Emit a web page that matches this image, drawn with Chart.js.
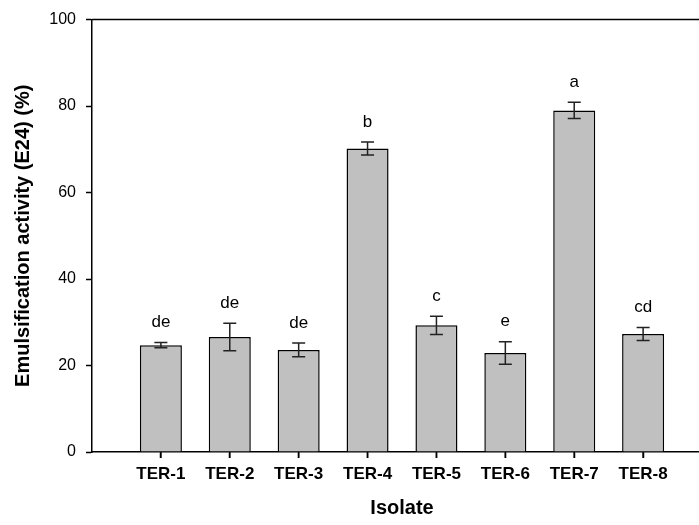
<!DOCTYPE html>
<html>
<head>
<meta charset="utf-8">
<script src="https://cdn.jsdelivr.net/npm/chart.js@4.4.1/dist/chart.umd.min.js"></script>
<style>
  html, body { margin: 0; padding: 0; background: #fff; overflow: hidden; }
  #wrap { width: 720px; height: 525px; position: relative; }
</style>
</head>
<body>
<div id="wrap"><canvas id="chart"></canvas></div>
<script>
// Emulsification activity (E24, %) per isolate: mean, standard deviation, significance group
const isolates = ['TER-1', 'TER-2', 'TER-3', 'TER-4', 'TER-5', 'TER-6', 'TER-7', 'TER-8'];
const meanE24 = [24.7, 26.6, 23.6, 70.2, 29.3, 22.9, 79.0, 27.3];
const sdE24 = [0.6, 3.2, 1.6, 1.5, 2.1, 2.6, 1.9, 1.5];
const groupLetters = ['de', 'de', 'de', 'b', 'c', 'e', 'a', 'cd'];
const yTickValues = [0, 20, 40, 60, 80, 100];

Chart.defaults.font.family = '"Liberation Sans", Arial, Helvetica, sans-serif';
Chart.defaults.color = '#000';

// Error bars, group letters, category tick marks and the top/right frame lines
const annotate = {
  id: 'annotate',
  afterDatasetsDraw(chart) {
    const { ctx, chartArea, scales: { x, y } } = chart;
    ctx.save();
    isolates.forEach((name, i) => {
      const px = x.getPixelForValue(i + 1);
      const yHi = y.getPixelForValue(meanE24[i] + sdE24[i]);
      const yLo = y.getPixelForValue(meanE24[i] - sdE24[i]);
      const cap = 6.5;
      ctx.strokeStyle = '#222';
      ctx.lineWidth = 1.5;
      ctx.beginPath();
      ctx.moveTo(px, yHi); ctx.lineTo(px, yLo);
      ctx.moveTo(px - cap, yHi); ctx.lineTo(px + cap, yHi);
      ctx.moveTo(px - cap, yLo); ctx.lineTo(px + cap, yLo);
      ctx.stroke();
      // tick mark below the axis at the category centre
      ctx.strokeStyle = '#000';
      ctx.beginPath();
      ctx.moveTo(px, chartArea.bottom);
      ctx.lineTo(px, chartArea.bottom + 6);
      ctx.stroke();
      ctx.fillStyle = '#000';
      ctx.font = '17px "Liberation Sans", Arial, sans-serif';
      ctx.textAlign = 'center';
      ctx.textBaseline = 'middle';
      ctx.fillText(groupLetters[i], px, yHi - 20);
    });
    ctx.strokeStyle = '#000';
    ctx.lineWidth = 1.5;
    ctx.beginPath();
    ctx.moveTo(chartArea.left, chartArea.top);
    ctx.lineTo(chartArea.right, chartArea.top);
    ctx.lineTo(chartArea.right, chartArea.bottom);
    ctx.stroke();
    ctx.restore();
  }
};

new Chart(document.getElementById('chart'), {
  type: 'bar',
  data: {
    datasets: [{
      label: 'E24 (%)',
      data: meanE24.map((v, i) => ({ x: i + 1, y: v })),
      backgroundColor: '#c0c0c0',
      borderColor: '#000',
      borderWidth: 1.5,
      barPercentage: 0.61,
      categoryPercentage: 1.0
    }]
  },
  options: {
    responsive: true,
    maintainAspectRatio: false,
    animation: false,
    devicePixelRatio: 1,
    layout: { padding: { left: 0, top: 18, right: 8, bottom: 0 } },
    plugins: {
      legend: { display: false },
      tooltip: { enabled: false }
    },
    scales: {
      x: {
        type: 'linear',
        offset: false,
        min: 0,
        max: isolates.length + 1,
        afterBuildTicks: (s) => { s.ticks = isolates.map((_, i) => ({ value: i + 1 })); },
        afterFit: (s) => { s.height = 73; },
        ticks: {
          callback: (v) => isolates[v - 1] || '',
          autoSkip: false,
          maxRotation: 0,
          padding: 6,
          color: '#000',
          font: { size: 17, weight: 'bold' }
        },
        grid: { offset: false, drawOnChartArea: false, drawTicks: true, tickLength: 6, tickColor: '#000', tickWidth: 1.5 },
        border: { display: true, color: '#000', width: 1.5 },
        title: {
          display: true,
          text: 'Isolate',
          color: '#000',
          font: { size: 20, weight: 'bold' },
          padding: { top: 0, bottom: 5 }
        }
      },
      y: {
        min: 0,
        max: 100,
        afterBuildTicks: (s) => { s.ticks = yTickValues.map(v => ({ value: v })); },
        afterFit: (s) => { s.width = 92; },
        ticks: {
          padding: 10,
          color: '#000',
          font: { size: 16 }
        },
        grid: { drawOnChartArea: false, drawTicks: true, tickLength: 6, tickColor: '#000', tickWidth: 1.5 },
        border: { display: true, color: '#000', width: 1.5 },
        title: {
          display: true,
          text: 'Emulsification activity (E24) (%)',
          color: '#000',
          font: { size: 20, weight: 'bold' },
          padding: { top: 11, bottom: 0 }
        }
      }
    }
  },
  plugins: [annotate]
});
</script>
</body>
</html>
